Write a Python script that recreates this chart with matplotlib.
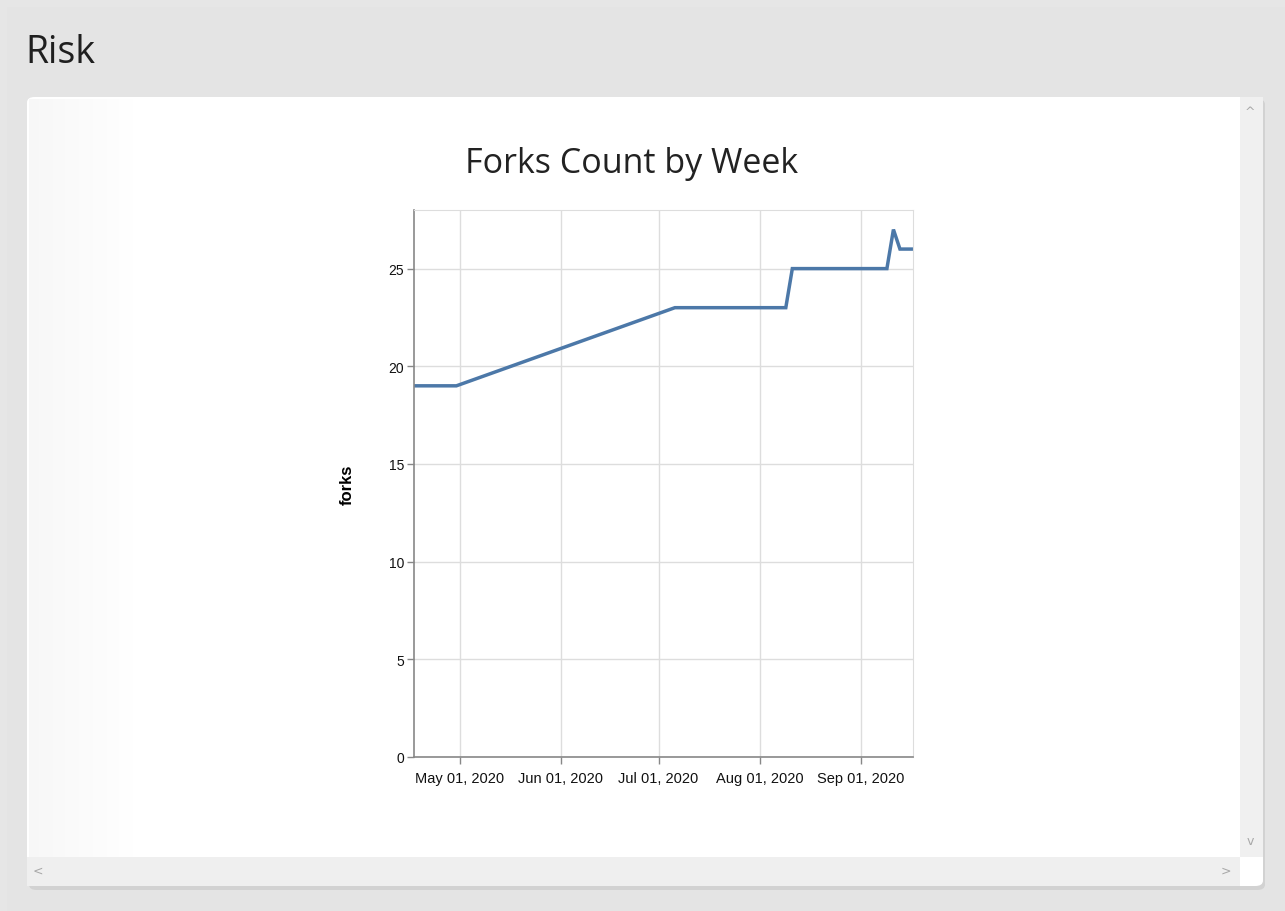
import pandas as pd
import matplotlib.pyplot as plt
import matplotlib.dates as mdates
from matplotlib.patches import Rectangle, FancyBboxPatch

# data
dates = ["2020-04-17", "2020-04-30", "2020-07-06", "2020-08-09", "2020-08-11",
         "2020-09-09", "2020-09-11", "2020-09-13", "2020-09-17"]
forks = [19, 19, 23, 23, 25, 25, 27, 26, 26]
tick_dates = ["2020-05-01", "2020-06-01", "2020-07-01", "2020-08-01", "2020-09-01"]
y_ticks = [0, 5, 10, 15, 20, 25]

df = pd.DataFrame({"date": pd.to_datetime(dates), "forks": forks})

fig = plt.figure(figsize=(12.85, 9.12), dpi=100)
fig.patch.set_facecolor("#e6e6e6")

# page background / panel
W, H = 1285, 912
def fx(x): return x / W
def fy(y): return 1 - y / H

fig.patches.append(Rectangle((fx(7), 0), fx(1285 - 7), fy(8), transform=fig.transFigure,
                             facecolor="#e4e4e4", edgecolor="none", zorder=0))
# shadow under the panel
fig.patches.append(FancyBboxPatch((fx(29), fy(891)), fx(1236), fy(100) - fy(891),
                                  boxstyle="round,pad=0,rounding_size=0.006",
                                  transform=fig.transFigure, facecolor="#d2d2d2",
                                  edgecolor="none", zorder=0.5))
fig.patches.append(FancyBboxPatch((fx(27), fy(887)), fx(1236), fy(98) - fy(887),
                                  boxstyle="round,pad=0,rounding_size=0.006",
                                  transform=fig.transFigure, facecolor="white",
                                  edgecolor="none", zorder=1))
# faint gradient at the panel's left edge
n = 55
for i in range(n):
    g = 0.968 + 0.032 * i / n
    fig.patches.append(Rectangle((fx(29 + i * 2), fy(858)), fx(2.2), fy(100) - fy(858),
                                 transform=fig.transFigure, facecolor=(g, g, g),
                                 edgecolor="none", zorder=1.05))
# scrollbars
fig.patches.append(Rectangle((fx(1240), fy(858)), fx(23), fy(98) - fy(858),
                             transform=fig.transFigure, facecolor="#f0f0f0",
                             edgecolor="none", zorder=1.1))
fig.patches.append(Rectangle((fx(27), fy(887)), fx(1213), fy(858) - fy(887),
                             transform=fig.transFigure, facecolor="#efefef",
                             edgecolor="none", zorder=1.1))
for s, x, y in [("^", 1250, 113), ("v", 1250, 842), ("<", 38, 871), (">", 1226, 871)]:
    fig.text(fx(x), fy(y), s, ha="center", va="center", color="#a8a8a8",
             fontsize=9, family="DejaVu Sans", zorder=2)

fig.text(fx(25), fy(53), "Risk", ha="left", va="center", fontsize=27,
         family="Open Sans", color="#1f1f1f")
fig.text(fx(632), fy(164), "Forks Count by Week", ha="center", va="center",
         fontsize=24.5, family="Open Sans", color="#222222")

ax = fig.add_axes([fx(414), fy(758), fx(913 - 414), fy(211) - fy(758)])
ax.set_facecolor("white")
ax.set_zorder(3)

ax.plot(df["date"], df["forks"], color="#4c78a8", linewidth=2.5, solid_joinstyle="miter")

ax.set_xlim(df["date"].min(), df["date"].max())
ax.set_ylim(0, 28)
ax.set_yticks(y_ticks)
ax.set_xticks(pd.to_datetime(tick_dates))
ax.xaxis.set_major_formatter(mdates.DateFormatter("%b %d, %Y"))

ax.grid(True, color="#dddddd", linewidth=1)
ax.set_axisbelow(True)
for side in ["top", "right"]:
    ax.spines[side].set_color("#dddddd")
for side in ["left", "bottom"]:
    ax.spines[side].set_color("#888888")
    ax.spines[side].set_linewidth(1.2)
ax.tick_params(axis="both", colors="#888888", length=5, width=1, labelsize=10,
               labelcolor="#111111")
ax.tick_params(axis="x", labelsize=10.5, pad=5)
ax.tick_params(axis="y", pad=2)
for lab in ax.get_xticklabels() + ax.get_yticklabels():
    lab.set_family("Liberation Sans")
ax.set_ylabel("forks", fontsize=12, fontweight="bold", family="Liberation Sans")
ax.yaxis.set_label_coords((355 - 414) / (913 - 414), 0.5)

plt.savefig("out.png", dpi=100)
